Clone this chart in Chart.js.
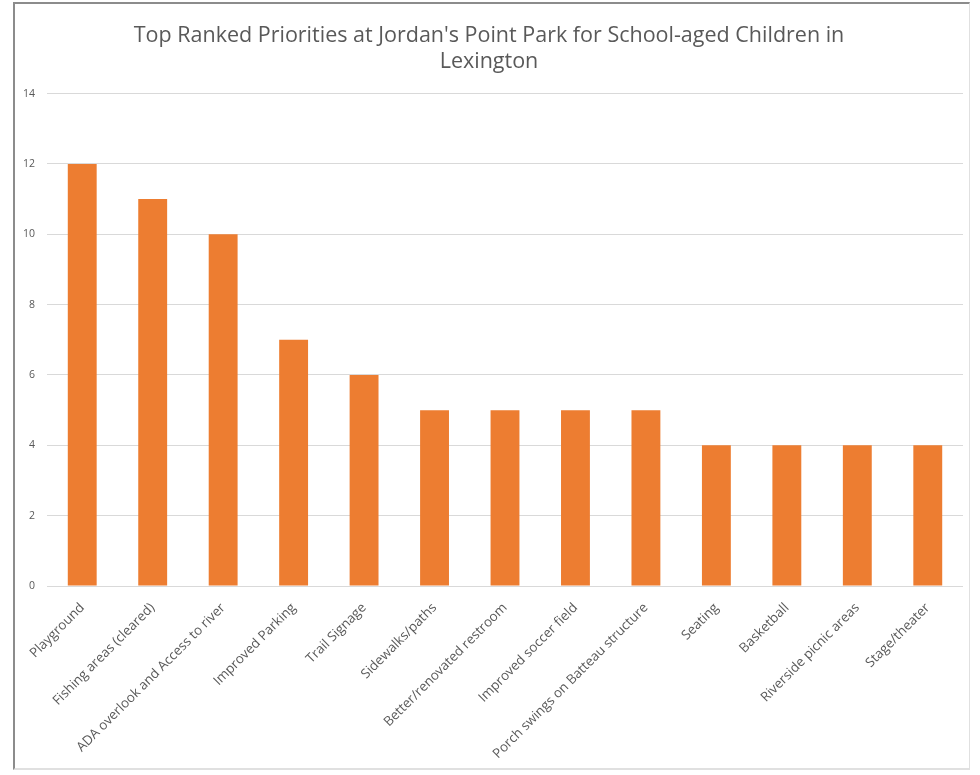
<!DOCTYPE html>
<html>
<head>
<meta charset="utf-8">
<script src="https://cdn.jsdelivr.net/npm/chart.js@4"></script>
<style>
    body { margin: 0; background: #fff; }
    #frame {
        position: absolute;
        left: 13px; top: 2px;
        width: 954px; height: 764px;
        border-left: 2px solid #8c8c8c;
        border-top: 2px solid #8c8c8c;
        border-right: 1px solid #e0e0e0;
        border-bottom: 2px solid #e0e0e0;
    }
</style>
</head>
<body>
<div id="frame"><canvas id="chart"></canvas></div>
<script>
// 类别和数值
const categories = [
    'Playground',
    'Fishing areas (cleared)',
    'ADA overlook and Access to river',
    'Improved Parking',
    'Trail Signage',
    'Sidewalks/paths',
    'Better/renovated restroom',
    'Improved soccer field',
    'Porch swings on Batteau structure',
    'Seating',
    'Basketball',
    'Riverside picnic areas',
    'Stage/theater'
];
const counts = [12, 11, 10, 7, 6, 5, 5, 5, 5, 4, 4, 4, 4];
const titleLines = ["Top Ranked Priorities at Jordan's Point Park for School-aged Children in", 'Lexington'];

document.addEventListener('DOMContentLoaded', function() {
    const frame = document.getElementById('frame');
    const canvas = document.getElementById('chart');
    canvas.width = frame.clientWidth;
    canvas.height = frame.clientHeight;

    new Chart(canvas, {
        type: 'bar',
        data: {
            labels: categories,
            datasets: [{
                data: counts,
                backgroundColor: '#ed7d31',
                barPercentage: 0.82,
                categoryPercentage: 0.5
            }]
        },
        options: {
            responsive: false,
            animation: false,
            layout: {
                padding: { left: 0, right: 6, top: 0, bottom: 10 }
            },
            plugins: {
                legend: { display: false },
                tooltip: { enabled: false },
                title: {
                    display: true,
                    text: titleLines,
                    color: '#595959',
                    font: { family: 'Open Sans', size: 21.5, weight: 'normal' },
                    lineHeight: 1.38,
                    padding: { top: 19, bottom: 19 }
                }
            },
            scales: {
                x: {
                    grid: { display: false },
                    border: { display: false },
                    ticks: {
                        color: '#595959',
                        font: { family: 'Open Sans', size: 13.3 },
                        minRotation: 45,
                        maxRotation: 45,
                        autoSkip: false,
                        padding: 6
                    },
                    afterFit: function(scale) {
                        scale.height = 172;
                    }
                },
                y: {
                    min: 0,
                    max: 14,
                    ticks: {
                        stepSize: 2,
                        color: '#595959',
                        font: { family: 'Open Sans', size: 10.5 },
                        padding: 12
                    },
                    grid: { color: '#d9d9d9', drawTicks: false },
                    border: { display: false },
                    afterFit: function(scale) {
                        scale.width = 32;
                    }
                }
            }
        }
    });
});
</script>
</body>
</html>
